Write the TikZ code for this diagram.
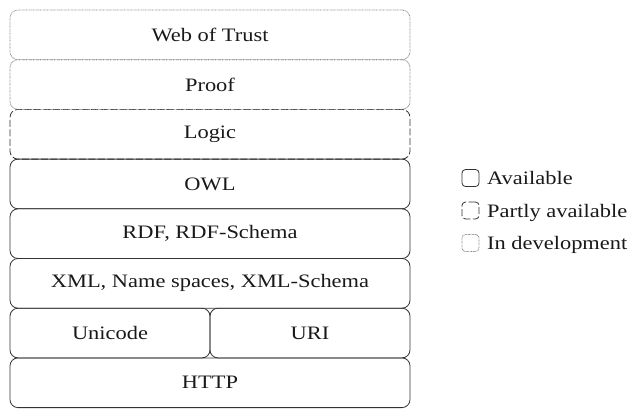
\documentclass[tikz,border=0pt]{standalone}
\usepackage{fontspec}
\setmainfont{Liberation Serif}[FakeStretch=1.18]
\begin{document}
\begin{tikzpicture}[x=1pt,y=-1pt,
  label font/.style={font=\fontsize{19}{22}\selectfont, text=black!90},
  layer/.style={draw=black!80, line width=0.8pt, rounded corners=8pt,
    minimum width=400pt, minimum height=49.7pt, inner sep=0pt, outer sep=0pt,
    label font},
  halflayer/.style={layer, minimum width=200pt},
  partly/.style={dash pattern=on 7pt off 2.5pt},
  indev/.style={draw=black!50, dash pattern=on 0.7pt off 0.7pt},
  keybox/.style={draw=black!80, line width=0.8pt, rounded corners=3.5pt,
    minimum width=17pt, minimum height=17pt, inner sep=0pt},
  keytext/.style={anchor=base west, inner sep=0pt, label font}]
\useasboundingbox (0,0) rectangle (629,408);

% protocol stack, bottom layer first
\node[layer]     (http)    at (210,382.75) {HTTP};
\node[halflayer] (unicode) at (110,333.05) {Unicode};
\node[halflayer] (uri)     at (310,333.05) {URI};
\node[layer]     (xml)     at (210,283.35) {XML, Name spaces, XML-Schema};
\node[layer]     (rdf)     at (210,233.65) {RDF, RDF-Schema};
\node[layer]     (owl)     at (210,183.95) {OWL};
\node[layer,partly] (logic) at (210,134.25) {Logic};
\node[layer,indev]  (proof) at (210,84.55) {Proof};
\node[layer,indev]  (trust) at (210,34.85) {Web of Trust};

% key
\node[keybox]        (kavail) at (470.5,178) {};
\node[keybox,partly] (kpart)  at (470.5,210.5) {};
\node[keybox,indev]  (kdev)   at (470.5,243) {};
\node[keytext] (tavail) at (487,184.5) {Available};
\node[keytext] (tpart)  at (487,217) {Partly available};
\node[keytext] (tdev)   at (487,249.5) {In development};
\end{tikzpicture}
\end{document}
